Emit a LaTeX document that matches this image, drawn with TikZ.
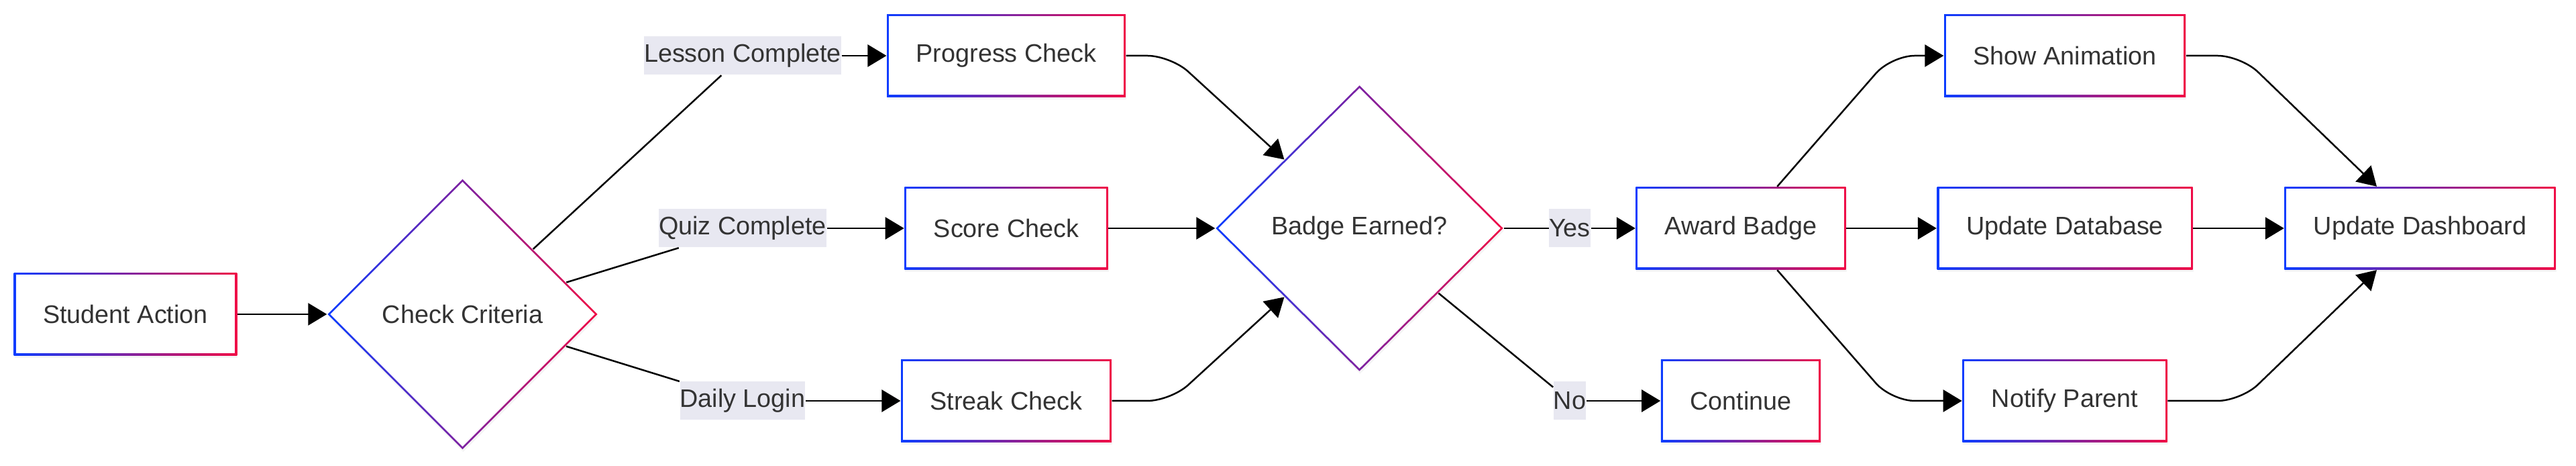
\documentclass[tikz,border=0pt]{standalone}
\usepackage{fontspec}
\setmainfont{Liberation Sans}
\usetikzlibrary{shapes.geometric, arrows.meta, shadows}

\begin{document}
\begin{tikzpicture}[
  font=\fontsize{10.75}{13}\selectfont,
  box/.style={rectangle, left color=nodeblue, right color=nodered, text=textgray,
    inner xsep=0.435cm, inner ysep=0pt, minimum height=1.23cm,
    drop shadow={opacity=0.08, shadow xshift=0.01cm, shadow yshift=-0.04cm},
    path picture={\fill[white] ([shift={(0.03cm,0.03cm)}]path picture bounding box.south west)
      rectangle ([shift={(-0.03cm,-0.03cm)}]path picture bounding box.north east);}},
  choice/.style={diamond, aspect=1, inner sep=0pt, left color=nodeblue, right color=nodered, text=textgray,
    drop shadow={opacity=0.08, shadow xshift=0.01cm, shadow yshift=-0.04cm},
    path picture={\fill[white] ([xshift=0.04cm]path picture bounding box.west)
      -- ([yshift=-0.04cm]path picture bounding box.north)
      -- ([xshift=-0.04cm]path picture bounding box.east)
      -- ([yshift=0.04cm]path picture bounding box.south) -- cycle;}},
  edgelabel/.style={fill=labelbg, text=textgray, inner sep=0pt, minimum height=0.57cm},
  line/.style={draw=black, line width=0.025cm},
  arrow/.style={line, -{Triangle[length=0.28cm, width=0.33cm]}},
]
  \useasboundingbox (0,0) rectangle (38.4,6.94);

  % Define colors
  \definecolor{nodeblue}{RGB}{12,60,255} % Left side of borders
  \definecolor{nodered}{RGB}{240,10,70} % Right side of borders
  \definecolor{textgray}{RGB}{51,51,51}
  \definecolor{labelbg}{RGB}{232,232,241}

  % Draw the nodes
  \node[box] (student) at (1.87,2.26) {Student Action};
  \node[choice, minimum size=4.03cm] (criteria) at (6.895,2.26) {Check Criteria};

  \node[box] (progress) at (15.0,6.11) {Progress Check};
  \node[box] (score) at (15.0,3.54) {Score Check};
  \node[box] (streak) at (15.0,0.97) {Streak Check};

  \node[choice, minimum width=4.29cm, minimum height=4.26cm] (badge) at (20.265,3.54) {Badge Earned?};

  \node[box] (award) at (25.95,3.54) {Award Badge};
  \node[box] (cont) at (25.95,0.97) {Continue};

  \node[box] (anim) at (30.78,6.11) {Show Animation};
  \node[box] (database) at (30.78,3.54) {Update Database};
  \node[box] (parent) at (30.78,0.97) {Notify Parent};
  \node[box] (dashboard) at (36.075,3.54) {Update Dashboard};

  % Add labels
  \node[edgelabel] (lesson) at (11.07,6.11) {Lesson Complete};
  \node[edgelabel] (quiz) at (11.07,3.54) {Quiz Complete};
  \node[edgelabel] (login) at (11.07,0.97) {Daily Login};
  \node[edgelabel] (yes) at (23.40,3.54) {Yes};
  \node[edgelabel] (no) at (23.40,0.97) {No};

  % Draw the connectors
  \draw[arrow] (student) -- (criteria);

  \draw[line] (criteria) -- (lesson);
  \draw[arrow] (lesson) -- (progress);
  \draw[line] (criteria) -- (quiz);
  \draw[arrow] (quiz) -- (score);
  \draw[line] (criteria) -- (login);
  \draw[arrow] (login) -- (streak);

  \draw[arrow, rounded corners=0.35cm] (progress.east) -- ([xshift=-0.66cm]badge.west |- progress.east) -- (badge);
  \draw[arrow] (score) -- (badge);
  \draw[arrow, rounded corners=0.35cm] (streak.east) -- ([xshift=-0.66cm]badge.west |- streak.east) -- (badge);

  \draw[line] (badge) -- (yes);
  \draw[arrow] (yes) -- (award);
  \draw[line] (badge) -- (no);
  \draw[arrow] (no) -- (cont);

  \draw[arrow, rounded corners=0.35cm] (award) -- ([xshift=-0.78cm]anim.west) -- (anim);
  \draw[arrow] (award) -- (database);
  \draw[arrow, rounded corners=0.35cm] (award) -- ([xshift=-0.78cm]anim.west |- parent.west) -- (parent);

  \draw[arrow, rounded corners=0.35cm] (anim.east) -- ([xshift=-0.64cm]dashboard.west |- anim.east) -- (dashboard);
  \draw[arrow] (database) -- (dashboard);
  \draw[arrow, rounded corners=0.35cm] (parent.east) -- ([xshift=-0.64cm]dashboard.west |- parent.east) -- (dashboard);
\end{tikzpicture}
\end{document}
